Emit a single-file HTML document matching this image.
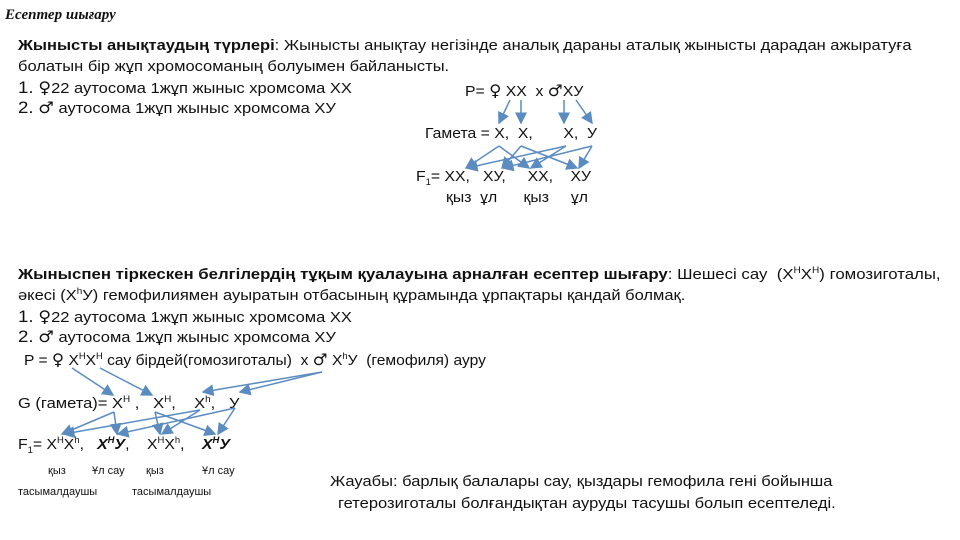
<!DOCTYPE html>
<html><head><meta charset="utf-8"><style>
body{margin:0;width:960px;height:540px;background:#fff;position:relative;overflow:hidden;font-family:"Liberation Sans",sans-serif;color:#111}
.t{position:absolute;white-space:nowrap;font-size:15px;line-height:16px;transform-origin:0 0}
.w{transform:scaleX(1.1)}
.d{transform:scaleX(1.05)}
.s{font-size:11px}
.g{font-family:"DejaVu Sans",sans-serif;font-size:16px}
sup,sub{font-size:9px;line-height:0}
</style></head><body>
<div class="t" style="left:5px;top:7px;font-family:'Liberation Serif',serif;font-style:italic;font-weight:bold;font-size:15px">Есептер шығару</div>
<div class="t w" style="left:18px;top:38px"><b>Жынысты анықтаудың түрлері</b>: Жынысты анықтау негізінде аналық дараны аталық жынысты дарадан ажыратуға</div>
<div class="t w" style="left:18px;top:59px">болатын бір жұп хромосоманың болуымен байланысты.</div>
<div class="t w" style="left:18px;top:80px"><span style="font-size:17px">1.</span> <span class="g">♀</span>22 аутосома 1жұп жыныс хромсома ХХ</div>
<div class="t w" style="left:18px;top:100px"><span style="font-size:17px">2.</span> <span class="g">♂</span> аутосома 1жұп жыныс хромсома ХУ</div>
<div class="t d" style="left:465px;top:83px">P= <span class="g">♀</span> XX &nbsp;x <span class="g">♂</span>XУ</div>
<div class="t d" style="left:425px;top:126px">Гамета = X, &nbsp;X, &nbsp;&nbsp;&nbsp;&nbsp;&nbsp;&nbsp;X, &nbsp;У</div>
<div class="t d" style="left:416px;top:169px">F<sub>1</sub>= XX, &nbsp;&nbsp;XУ, &nbsp;&nbsp;&nbsp;&nbsp;XX, &nbsp;&nbsp;&nbsp;XУ</div>
<div class="t d" style="left:446px;top:190px">қыз &nbsp;ұл &nbsp;&nbsp;&nbsp;&nbsp;&nbsp;қыз &nbsp;&nbsp;&nbsp;&nbsp;ұл</div>

<div class="t" style="left:18px;top:267px;transform:scaleX(1.12)"><b>Жыныспен тіркескен белгілердің тұқым қуалауына арналған есептер шығару</b>: Шешесі сау &nbsp;(X<sup>H</sup>X<sup>H</sup>) гомозиготалы,</div>
<div class="t w" style="left:18px;top:288px">әкесі (X<sup>h</sup>У) гемофилиямен ауыратын отбасының құрамында ұрпақтары қандай болмақ.</div>
<div class="t w" style="left:18px;top:309px"><span style="font-size:17px">1.</span> <span class="g">♀</span>22 аутосома 1жұп жыныс хромсома ХХ</div>
<div class="t w" style="left:18px;top:329px"><span style="font-size:17px">2.</span> <span class="g">♂</span> аутосома 1жұп жыныс хромсома ХУ</div>
<div class="t" style="left:24px;top:352px;transform:scaleX(1.04)">P = <span class="g">♀</span> X<sup>H</sup>X<sup>H</sup> сау бірдей(гомозиготалы) &nbsp;x <span class="g">♂</span> X<sup>h</sup>У &nbsp;(гемофиля) ауру</div>
<div class="t" style="left:18px;top:396px;transform:scaleX(1.1)">G (гамета)= X<sup>H</sup> , &nbsp;&nbsp;X<sup>H</sup>, &nbsp;&nbsp;&nbsp;X<sup>h</sup>, &nbsp;&nbsp;У</div>
<div class="t" style="left:18px;top:437px;transform:scaleX(1.05)">F<sub>1</sub>= X<sup>H</sup>X<sup>h</sup>, &nbsp;&nbsp;<b><i>X<sup>H</sup>У</i></b>, &nbsp;&nbsp;&nbsp;X<sup>H</sup>X<sup>h</sup>, &nbsp;&nbsp;&nbsp;<b><i>X<sup>H</sup>У</i></b></div>
<div class="t s" style="left:48px;top:463px">қыз</div>
<div class="t s" style="left:92px;top:463px">Ұл сау</div>
<div class="t s" style="left:146px;top:463px">қыз</div>
<div class="t s" style="left:202px;top:463px">Ұл сау</div>
<div class="t s" style="left:18px;top:484px">тасымалдаушы</div>
<div class="t s" style="left:132px;top:484px">тасымалдаушы</div>
<div class="t" style="left:330px;top:474px;transform:scaleX(1.1)">Жауабы: барлық балалары сау, қыздары гемофила гені бойынша</div>
<div class="t" style="left:338px;top:496px;transform:scaleX(1.1)">гетерозиготалы болғандықтан ауруды тасушы болып есептеледі.</div>

<svg width="960" height="540" style="position:absolute;left:0;top:0">
<defs><marker id="a" markerWidth="8" markerHeight="8" refX="7" refY="4" orient="auto"><path d="M0,0 L8,4 L0,8z" fill="#5b8cc0"/></marker></defs>
<g stroke="#5b8cc0" stroke-width="1.5" fill="none" marker-end="url(#a)">
<line x1="510" y1="100" x2="499" y2="123"/><line x1="521" y1="100" x2="521" y2="123"/>
<line x1="564" y1="100" x2="564" y2="123"/><line x1="576" y1="100" x2="592" y2="123"/>
<line x1="499" y1="146" x2="466" y2="168"/><line x1="499" y1="146" x2="529" y2="168"/>
<line x1="521" y1="146" x2="502" y2="168"/><line x1="521" y1="146" x2="577" y2="168"/>
<line x1="566" y1="146" x2="467" y2="168"/><line x1="566" y1="146" x2="531" y2="168"/>
<line x1="592" y1="146" x2="503" y2="168"/><line x1="592" y1="146" x2="579" y2="168"/>
<line x1="72" y1="368" x2="113" y2="395"/><line x1="100" y1="368" x2="152" y2="395"/>
<line x1="322" y1="372" x2="203" y2="392"/><line x1="322" y1="372" x2="240" y2="392"/>
<line x1="114" y1="412" x2="62" y2="434"/><line x1="114" y1="412" x2="117" y2="434"/>
<line x1="155" y1="412" x2="160" y2="434"/><line x1="155" y1="412" x2="215" y2="434"/>
<line x1="200" y1="410" x2="64" y2="434"/><line x1="200" y1="410" x2="162" y2="434"/>
<line x1="235" y1="408" x2="118" y2="434"/><line x1="235" y1="408" x2="218" y2="434"/>
</g></svg>
</body></html>
